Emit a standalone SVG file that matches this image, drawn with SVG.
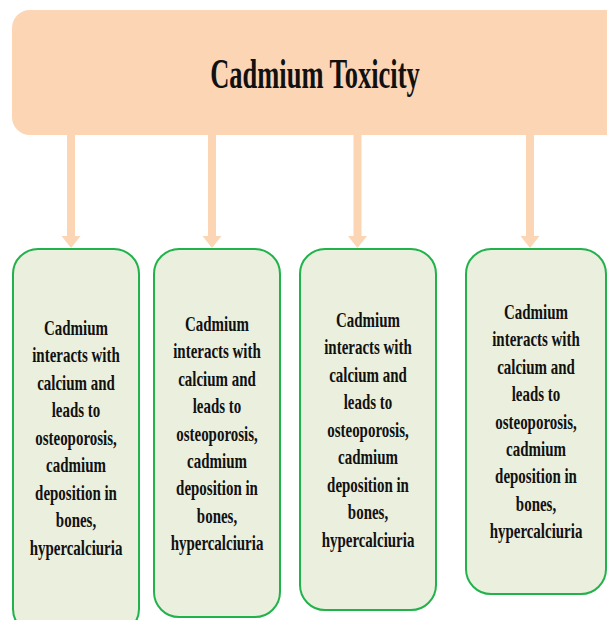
<svg xmlns="http://www.w3.org/2000/svg" width="607" height="620" viewBox="0 0 607 620">
<style>
.top{fill:#FCD5B5;}
.arr{fill:#FCD5B5;}
.box{fill:#EBEFDE;stroke:#22B24C;stroke-width:2;}
.t{font-family:"Liberation Serif","Times New Roman",serif;font-weight:bold;fill:#111;text-anchor:middle;}
.bt{font-size:22px;}
.tt{font-size:42px;}
</style>
<rect width="607" height="620" fill="#FFFFFF"/>
<g id="connectors">
<polygon class="arr" points="67,135 75,135 75,236 80.5,236 71,248 61.5,236 67,236"/>
<polygon class="arr" points="208,135 216,135 216,236 221.5,236 212,248 202.5,236 208,236"/>
<polygon class="arr" points="353.5,135 361.5,135 361.5,236 367,236 357.5,248 348,236 353.5,236"/>
<polygon class="arr" points="526,135 534,135 534,236 539.5,236 530,248 520.5,236 526,236"/>
</g>
<g id="title">
<rect class="top" x="12" y="10" width="612" height="125" rx="18" ry="18"/>
<text class="t tt" transform="translate(315,88) scale(0.63,1)" x="0" y="0">Cadmium Toxicity</text>
</g>
<g id="box1">
<rect class="box" x="13" y="249" width="126" height="385" rx="25" ry="25"/>
<g class="t bt" transform="translate(76,0) scale(0.68,1)">
<text x="0" y="335">Cadmium</text>
<text x="0" y="362.5">interacts with</text>
<text x="0" y="390">calcium and</text>
<text x="0" y="417.5">leads to</text>
<text x="0" y="445">osteoporosis,</text>
<text x="0" y="472.5">cadmium</text>
<text x="0" y="500">deposition in</text>
<text x="0" y="527.5">bones,</text>
<text x="0" y="555">hypercalciuria</text>
</g>
</g>
<g id="box2">
<rect class="box" x="154" y="249" width="126" height="368" rx="25" ry="25"/>
<g class="t bt" transform="translate(217,0) scale(0.68,1)">
<text x="0" y="331">Cadmium</text>
<text x="0" y="358.4">interacts with</text>
<text x="0" y="385.8">calcium and</text>
<text x="0" y="413.2">leads to</text>
<text x="0" y="440.6">osteoporosis,</text>
<text x="0" y="468">cadmium</text>
<text x="0" y="495.4">deposition in</text>
<text x="0" y="522.8">bones,</text>
<text x="0" y="550.2">hypercalciuria</text>
</g>
</g>
<g id="box3">
<rect class="box" x="300" y="249" width="136" height="361" rx="25" ry="25"/>
<g class="t bt" transform="translate(368,0) scale(0.68,1)">
<text x="0" y="327">Cadmium</text>
<text x="0" y="354.5">interacts with</text>
<text x="0" y="382">calcium and</text>
<text x="0" y="409.5">leads to</text>
<text x="0" y="437">osteoporosis,</text>
<text x="0" y="464.5">cadmium</text>
<text x="0" y="492">deposition in</text>
<text x="0" y="519.5">bones,</text>
<text x="0" y="547">hypercalciuria</text>
</g>
</g>
<g id="box4">
<rect class="box" x="466" y="249" width="140" height="345" rx="25" ry="25"/>
<g class="t bt" transform="translate(536,0) scale(0.68,1)">
<text x="0" y="319">Cadmium</text>
<text x="0" y="346.4">interacts with</text>
<text x="0" y="373.8">calcium and</text>
<text x="0" y="401.2">leads to</text>
<text x="0" y="428.6">osteoporosis,</text>
<text x="0" y="456">cadmium</text>
<text x="0" y="483.4">deposition in</text>
<text x="0" y="510.8">bones,</text>
<text x="0" y="538.2">hypercalciuria</text>
</g>
</g>
</svg>
